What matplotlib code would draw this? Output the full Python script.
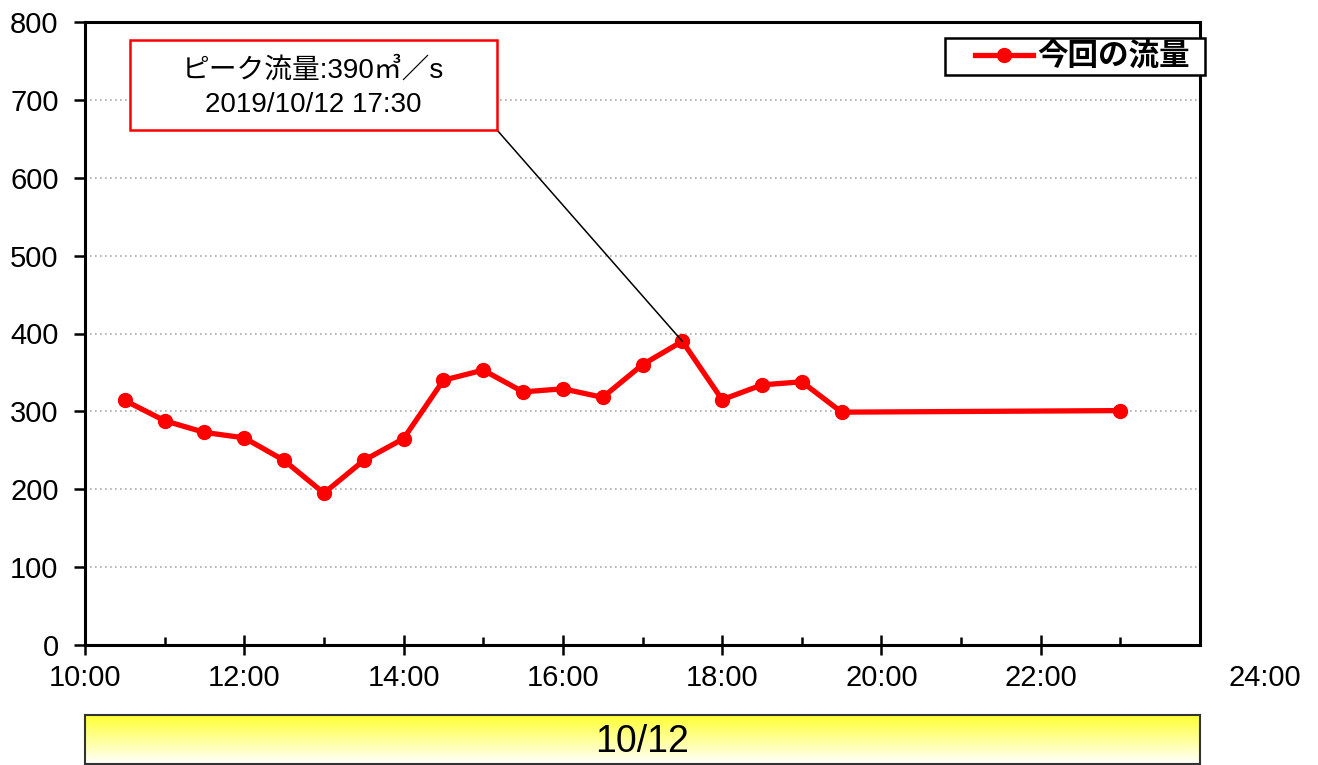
import numpy as np
import matplotlib
matplotlib.use("Agg")
import matplotlib.pyplot as plt
from matplotlib import font_manager
from matplotlib.lines import Line2D
from matplotlib.patches import Rectangle, ConnectionPatch

# 流量データ（時刻は10/12の時間単位）
hours = [10.5, 11.0, 11.5, 12.0, 12.5, 13.0, 13.5, 14.0, 14.5, 15.0,
         15.5, 16.0, 16.5, 17.0, 17.5, 18.0, 18.5, 19.0, 19.5, 23.0]
flow = [314, 288, 273, 266, 237, 195, 237, 265, 340, 353,
        325, 329, 318, 360, 390, 315, 334, 338, 299, 301]
series_label = "今回の流量"
peak_hour = 17.5
peak_flow = 390
peak_lines = ["ピーク流量:390㎥／s", "2019/10/12 17:30"]
date_label = "10/12"
x_tick_hours = [10, 12, 14, 16, 18, 20, 22]
x_tick_labels = ["10:00", "12:00", "14:00", "16:00", "18:00", "20:00", "22:00"]
end_label = "24:00"
y_ticks = [0, 100, 200, 300, 400, 500, 600, 700, 800]

installed = {f.name for f in font_manager.fontManager.ttflist}
narrow = "Liberation Sans Narrow" if "Liberation Sans Narrow" in installed else "Liberation Sans"
NUM_FONT = [narrow, "Noto Sans CJK JP", "DejaVu Sans"]
JP_FONT = ["Noto Sans CJK JP", "DejaVu Sans"]
ANN_FONT = ["Liberation Sans", "Noto Sans CJK JP", "DejaVu Sans"]

W, H = 1318, 765
fig = plt.figure(figsize=(W / 100, H / 100), dpi=100)
fig.patch.set_facecolor("white")


def fx(px):
    return px / W


def fy(py):
    return 1 - py / H


L, R, T, B = 85, 1200, 22, 645
ax = fig.add_axes([fx(L), fy(B), (R - L) / W, (B - T) / H])

ax.plot(hours, flow, color="#FF0000", lw=3.8, marker="o", ms=10,
        markeredgecolor="#FF0000", zorder=5, solid_joinstyle="round")

ax.set_xlim(10, 24)
ax.set_ylim(0, 800)
ax.set_yticks(y_ticks)
ax.set_yticklabels([str(v) for v in y_ticks], fontfamily=NUM_FONT, fontsize=21)
ax.set_xticks(x_tick_hours)
ax.set_xticklabels(x_tick_labels, fontfamily=NUM_FONT, fontsize=21)
ax.set_xticks([11, 13, 15, 17, 19, 21, 23], minor=True)

ax.tick_params(axis="y", direction="out", length=8, width=1.8, pad=11)
ax.tick_params(axis="x", which="major", direction="inout", length=14, width=1.8, pad=7)
ax.tick_params(axis="x", which="minor", direction="in", length=6, width=1.8)

for s in ax.spines.values():
    s.set_linewidth(2.2)
    s.set_color("black")

ax.yaxis.grid(True, linestyle=(0, (1, 2)), color="#AAAAAA", lw=1.2)
ax.set_axisbelow(True)

# 24:00 の目盛ラベル（右端の外側）
fig.text(fx(1265), fy(678), end_label, ha="center", va="center",
         fontfamily=NUM_FONT, fontsize=21)

# ピーク注記（赤枠＋引出線）
bx0, by0, bx1, by1 = 130, 40, 497, 130
fig.patches.append(Rectangle((fx(bx0), fy(by1)), (bx1 - bx0) / W, (by1 - by0) / H,
                             transform=fig.transFigure, fc="white", ec="#FF0000",
                             lw=1.8, zorder=6))
fig.text(fx(313), fy(70), peak_lines[0], ha="center", va="center",
         fontsize=20, fontfamily=ANN_FONT, zorder=7)
fig.text(fx(313), fy(105), peak_lines[1], ha="center", va="center",
         fontsize=20, fontfamily=ANN_FONT, zorder=7)
leader = ConnectionPatch(xyA=(fx(bx1), fy(by1)), coordsA=fig.transFigure,
                         xyB=(peak_hour, peak_flow), coordsB=ax.transData,
                         color="black", lw=1.1, zorder=6)
fig.add_artist(leader)

# 凡例（枠は別に描く）
lx0, ly0, lx1, ly1 = 945, 38, 1205, 75
fig.patches.append(Rectangle((fx(lx0), fy(ly1)), (lx1 - lx0) / W, (ly1 - ly0) / H,
                             transform=fig.transFigure, fc="white", ec="black",
                             lw=1.8, zorder=8))
handle = Line2D([], [], color="#FF0000", lw=3.8, marker="o", ms=10)
leg = fig.legend([handle], [series_label], loc="center right",
                 bbox_to_anchor=(fx(1190), fy(56.5)),
                 bbox_transform=fig.transFigure,
                 prop={"family": JP_FONT, "size": 22, "weight": "bold"},
                 frameon=False, handlelength=1.9,
                 borderpad=0, handletextpad=0.15, borderaxespad=0)
leg.set_zorder(9)

# 日付の帯（黄色→白のグラデーション）
bx = fig.add_axes([fx(L), fy(764), (R - L) / W, (764 - 715) / H])
grad = np.linspace(0, 1, 256).reshape(-1, 1)
top = np.array([1.0, 1.0, 0.2])
bot = np.array([1.0, 1.0, 1.0])
img = top[None, None, :] * (1 - grad[:, :, None]) + bot[None, None, :] * grad[:, :, None]
bx.imshow(img, aspect="auto", extent=(0, 1, 0, 1), origin="upper")
bx.set_xlim(0, 1)
bx.set_ylim(0, 1)
bx.set_xticks([])
bx.set_yticks([])
for s in bx.spines.values():
    s.set_linewidth(1.5)
    s.set_color("#333333")
bx.text(0.5, 0.45, date_label, ha="center", va="center", fontsize=27,
        fontfamily=NUM_FONT)

fig.savefig("out.png", dpi=100)
